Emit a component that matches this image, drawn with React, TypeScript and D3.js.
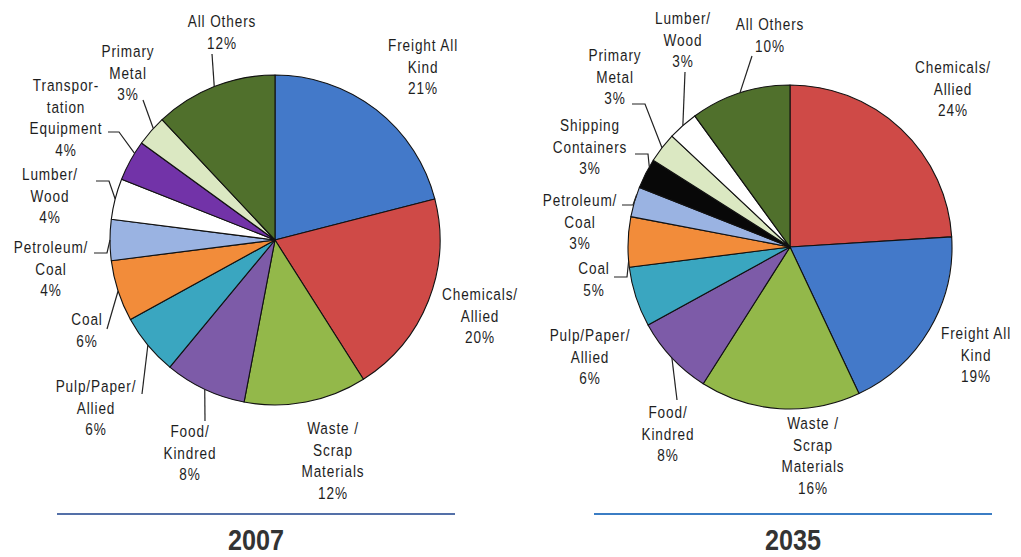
import React from 'react';
import * as d3 from 'd3';

// 2007 shares (clockwise from 12 o'clock)
const cats2007 = [
  'Freight All\nKind', 'Chemicals/\nAllied', 'Waste /\nScrap\nMaterials', 'Food/\nKindred',
  'Pulp/Paper/\nAllied', 'Coal', 'Petroleum/\nCoal', 'Lumber/\nWood',
  'Transpor-\ntation\nEquipment', 'Primary\nMetal', 'All Others',
];
const values2007 = [21, 20, 12, 8, 6, 6, 4, 4, 4, 3, 12];

// 2035 shares
const cats2035 = [
  'Chemicals/\nAllied', 'Freight All\nKind', 'Waste /\nScrap\nMaterials', 'Food/\nKindred',
  'Pulp/Paper/\nAllied', 'Coal', 'Petroleum/\nCoal', 'Shipping\nContainers',
  'Primary\nMetal', 'Lumber/\nWood', 'All Others',
];
const values2035 = [24, 19, 16, 8, 6, 5, 3, 3, 3, 3, 10];

const colorOf: Record<string, string> = {
  'Freight All\nKind': '#4379c9',
  'Chemicals/\nAllied': '#cf4a47',
  'Waste /\nScrap\nMaterials': '#93b84a',
  'Food/\nKindred': '#7d5ba8',
  'Pulp/Paper/\nAllied': '#3aa6c0',
  'Coal': '#f28c3a',
  'Petroleum/\nCoal': '#9ab3e2',
  'Lumber/\nWood': '#ffffff',
  'Transpor-\ntation\nEquipment': '#7233a8',
  'Primary\nMetal': '#dbe8c2',
  'All Others': '#50702c',
  'Shipping\nContainers': '#080808',
};

type Lbl = { x: number; y: number; lead?: [number, number][]; t?: number };

// label placement (text centre of first line, leader start/elbow points)
const layout2007: Lbl[] = [
  { x: 423, y: 45 },
  { x: 480, y: 294 },
  { x: 333, y: 428 },
  { x: 190, y: 431, lead: [[205, 421]] },
  { x: 96, y: 386, lead: [[142, 394]] },
  { x: 87, y: 319, lead: [[107, 329]] },
  { x: 51, y: 247, lead: [[94, 253], [107, 253]] },
  { x: 50, y: 174, lead: [[96, 181], [109, 181]] },
  { x: 66, y: 85, lead: [[108, 132], [119, 132]], t: 0.7 },
  { x: 128, y: 51, lead: [[143, 100]], t: 0.6 },
  { x: 222, y: 21, lead: [[212, 54]] },
];

const layout2035: Lbl[] = [
  { x: 953, y: 67 },
  { x: 976, y: 333 },
  { x: 813, y: 423 },
  { x: 668, y: 412, lead: [[677, 400]] },
  { x: 590, y: 335 },
  { x: 594, y: 268, lead: [[614, 277], [627, 277]], t: 0.12 },
  { x: 580, y: 200, lead: [[622, 205], [633, 205]], t: 0.75 },
  { x: 590, y: 125, lead: [[635, 154], [648, 154]], t: 0.75 },
  { x: 615, y: 55, lead: [[632, 104], [645, 104]], t: 0.5 },
  { x: 683, y: 18, lead: [[685, 72]], t: 0.5 },
  { x: 770, y: 24, lead: [[752, 56]] },
];

const FONT = "'Liberation Sans', Arial, sans-serif";
const LH = 21.5;
const SQUEEZE = 0.8; // narrow face look

function Pie({ cx, cy, r, cats, values, layout, year, line }: {
  cx: number; cy: number; r: number; cats: string[]; values: number[];
  layout: Lbl[]; year: string; line: [number, number, string];
}) {
  const arcs = d3.pie<number>().sort(null).value(d => d)(values);
  const arc = d3.arc<d3.PieArcDatum<number>>().innerRadius(0).outerRadius(r);
  const edge = (a: number): [number, number] => [cx + r * Math.sin(a), cy - r * Math.cos(a)];

  return (
    <g>
      <g transform={`translate(${cx},${cy})`}>
        {arcs.map((a, i) => (
          <path key={i} d={arc(a) || ''} fill={colorOf[cats[i]]} stroke="#111" strokeWidth={1.1} strokeLinejoin="round" />
        ))}
      </g>
      {arcs.map((a, i) => {
        const l = layout[i];
        const lines = cats[i].split('\n').concat(`${values[i]}%`);
        let leader = null;
        if (l.lead) {
          const t = l.t ?? 0.5;
          const end = edge(a.startAngle + t * (a.endAngle - a.startAngle));
          const pts = [...l.lead, end];
          leader = <polyline points={pts.map(p => p.join(',')).join(' ')} fill="none" stroke="#222" strokeWidth={1.2} />;
        }
        return (
          <g key={i}>
            {leader}
            {lines.map((s, j) => (
              <text key={j} transform={`translate(${l.x},${l.y + j * LH}) scale(${SQUEEZE},1)`}
                textAnchor="middle" dominantBaseline="central"
                fontFamily={FONT} fontSize={17} letterSpacing={1.1} fill="#1e1e1e">{s}</text>
            ))}
          </g>
        );
      })}
      <line x1={line[0]} x2={line[1]} y1={514} y2={514} stroke={line[2]} strokeWidth={2} />
      <text transform={`translate(${(line[0] + line[1]) / 2},550) scale(0.84,1)`} textAnchor="middle"
        fontFamily={FONT} fontWeight="bold" fontSize={30} fill="#333">{year}</text>
    </g>
  );
}

export default function App() {
  return (
    <svg width={1021} height={557} style={{ position: 'absolute', left: 0, top: 0, background: '#fff' }}>
      <Pie cx={275} cy={240} r={165} cats={cats2007} values={values2007} layout={layout2007}
        year="2007" line={[57, 455, '#5470a8']} />
      <Pie cx={790} cy={247} r={162} cats={cats2035} values={values2035} layout={layout2035}
        year="2035" line={[594, 992, '#3b7dc4']} />
    </svg>
  );
}
